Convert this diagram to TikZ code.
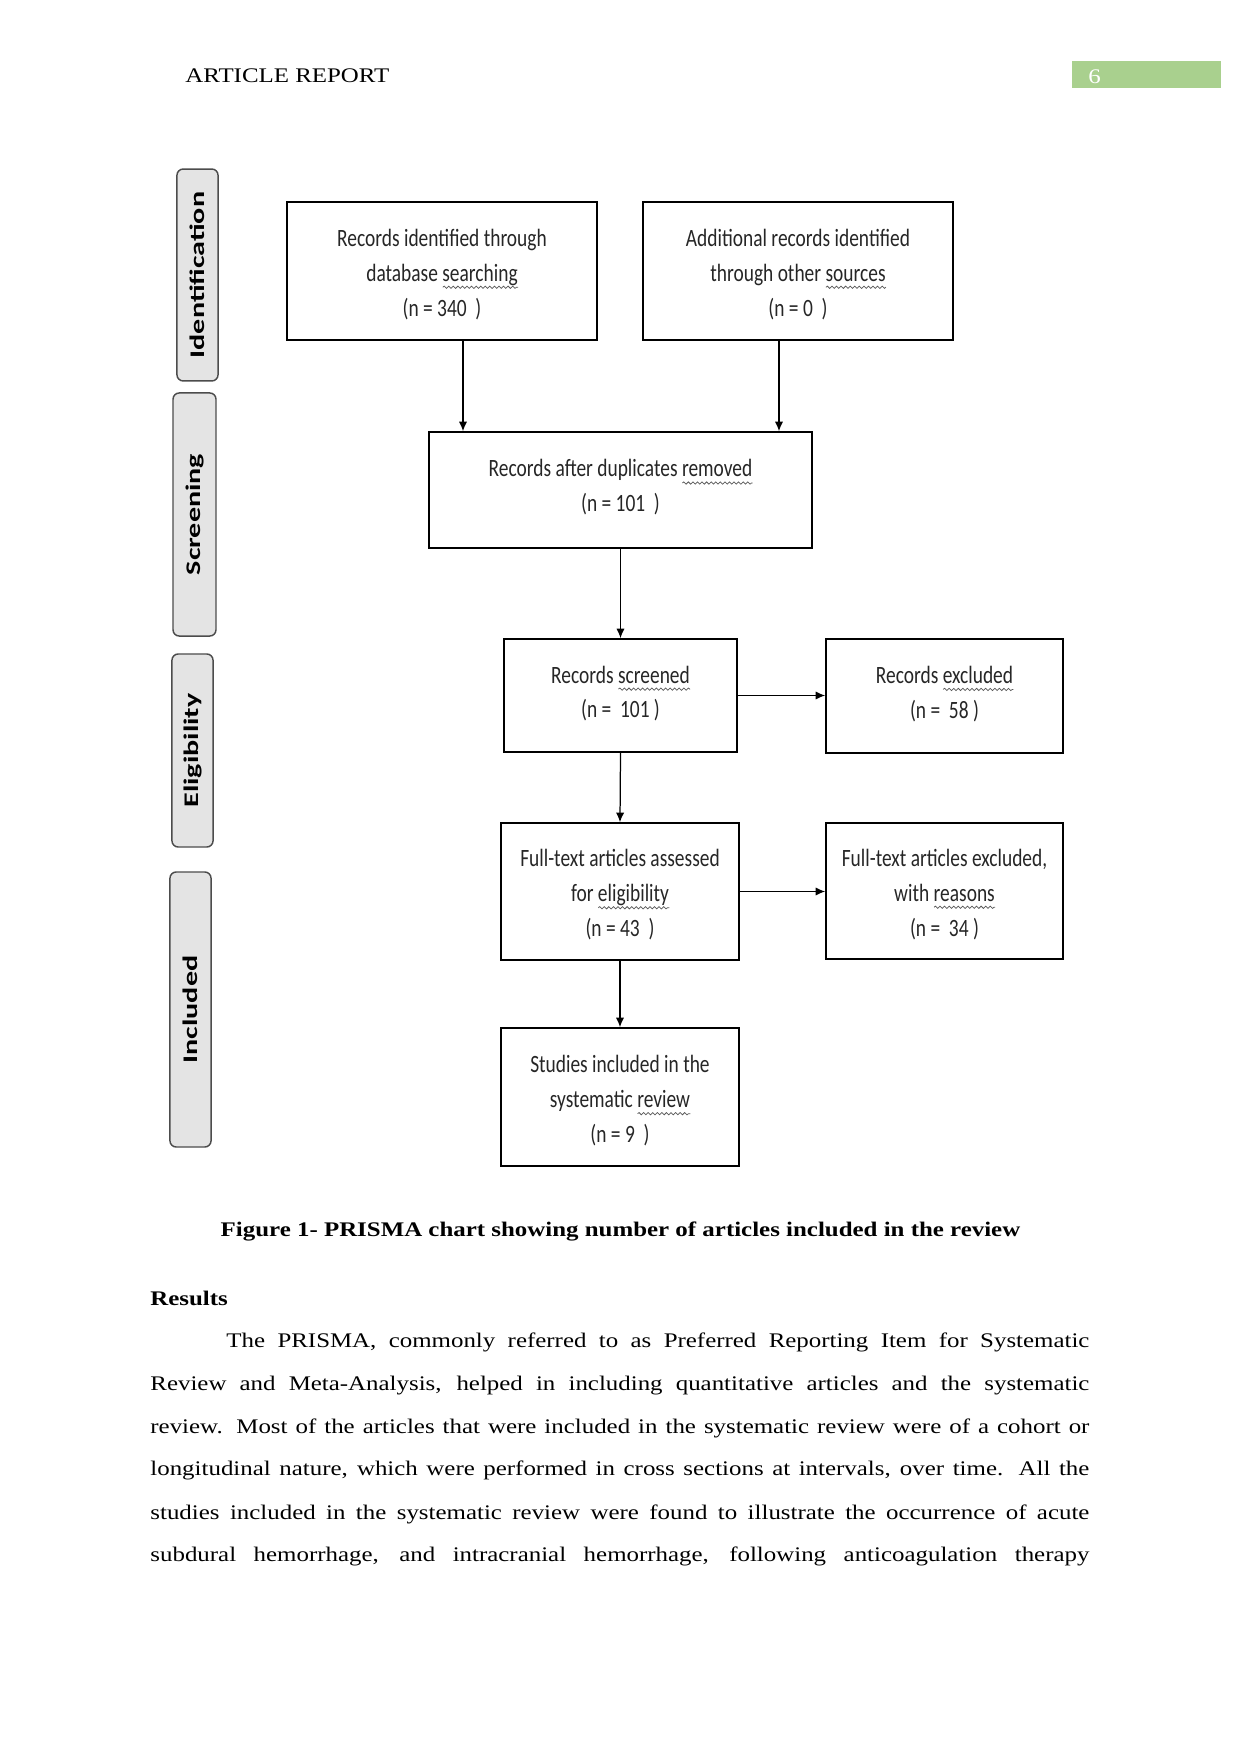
\documentclass[tikz,border=0pt]{standalone}
\usepackage{fontspec}
\setmainfont[FakeStretch=1.2]{Liberation Serif}
\newfontfamily\boxfont[FakeStretch=0.78]{Carlito}
\newfontfamily\tabfont[FakeStretch=1.45]{Carlito}
\usepackage{xcolor}
\usetikzlibrary{arrows.meta, calc, decorations.pathmorphing}
\definecolor{tabgray}{HTML}{E4E4E4}
\definecolor{pagegreen}{HTML}{A9D08E}
\newdimen\sqwd
\newcommand{\sq}[1]{\setbox0\hbox{#1}\sqwd=\wd0\rlap{\tikz[baseline=0pt, x=1pt, y=1pt]
  \draw[black!65, line width=0.35pt, decorate, decoration={snake, amplitude=0.55pt, segment length=2.2pt}]
  (0,-2.9) -- (\sqwd,-2.9);}#1}

\begin{document}
\begin{tikzpicture}[x=0.4818pt, y=-0.4818pt,
  prisma/.style={draw, line width=0.8pt, inner sep=0pt},
  prismatext/.style={align=center, inner sep=0pt, text=black!85,
    font=\boxfont\fontsize{12}{16.8}\selectfont},
  phase/.style={draw=black!70, fill=tabgray, line width=0.7pt, rounded corners=3pt,
    rotate=90, inner sep=0pt, font=\tabfont\bfseries\fontsize{10}{12}\selectfont},
  flow/.style={line width=0.6pt, -{Latex[length=4.6pt, width=4pt]}}]
\useasboundingbox (0,0) rectangle (1241,1754);
\node[anchor=base west, inner sep=0pt] (runhead) at (185,83) {ARTICLE REPORT};
\node[fill=pagegreen, minimum width=71.8pt, minimum height=13pt, inner sep=0pt] (pagebox) at (1146.5,74.5) {};
\node[anchor=base west, inner sep=0pt, text=white] (pagenum) at (1088,84) {6};
\node[phase, minimum width=102.1pt, minimum height=19.8pt] (identif) at (197.5,275) {Identification};
\node[phase, minimum width=117.1pt, minimum height=20.7pt] (screen) at (194.5,514.5) {Screening};
\node[phase, minimum width=93pt, minimum height=19.8pt] (elig) at (192.5,750.5) {Eligibility};
\node[phase, minimum width=132.5pt, minimum height=19.8pt] (incl) at (190.5,1009.5) {Included};
\node[prisma, minimum width=149.4pt, minimum height=66.5pt,
  label={[prismatext, yshift=-1.6pt]center:{Records identified through\\database \sq{searching}\\(n = 340\ \ )}}] (dbsearch) at (442,271) {};
\node[prisma, minimum width=149.4pt, minimum height=66.5pt,
  label={[prismatext, yshift=-1.6pt]center:{Additional records identified\\through other \sq{sources}\\(n = 0\ \ )}}] (othersrc) at (798,271) {};
\node[prisma, minimum width=184.5pt, minimum height=55.9pt,
  label={[prismatext, yshift=1.2pt]center:{Records after duplicates \sq{removed}\\(n = 101\ \ )}}] (dedup) at (620.5,490) {};
\node[prisma, minimum width=112.3pt, minimum height=54.4pt,
  label={[prismatext, yshift=0.9pt]center:{Records \sq{screened}\\(n =\ \ 101 )}}] (screened) at (620.5,695.5) {};
\node[prisma, minimum width=114.2pt, minimum height=54.9pt,
  label={[prismatext, yshift=1pt]center:{Records \sq{excluded}\\(n =\ \ 58 )}}] (excluded) at (944.5,696) {};
\node[prisma, minimum width=114.7pt, minimum height=66pt,
  label={[prismatext, yshift=-1.6pt]center:{Full-text articles assessed\\for \sq{eligibility}\\(n = 43\ \ )}}] (fulltext) at (620,891.5) {};
\node[prisma, minimum width=114.2pt, minimum height=65.5pt,
  label={[prismatext, yshift=-1.6pt]center:{Full-text articles excluded,\\with \sq{reasons}\\(n =\ \ 34 )}}] (ftexcl) at (944.5,891) {};
\node[prisma, minimum width=114.7pt, minimum height=66.5pt,
  label={[prismatext, yshift=-1.8pt]center:{Studies included in the\\systematic \sq{review}\\(n = 9\ \ )}}] (studies) at (620,1097) {};
\coordinate (dbout) at ($(dbsearch.south)+(21,0)$);
\coordinate (otherout) at ($(othersrc.south)+(-19,0)$);
\draw[flow] (dbout) -- (dbout |- dedup.north);
\draw[flow] (otherout) -- (otherout |- dedup.north);
\draw[flow] (dedup.south) -- (screened.north);
\draw[flow] (screened.east) -- (screened.east -| excluded.west);
\draw[flow] (screened.south) -- (fulltext.north);
\draw[flow] (fulltext.east) -- (fulltext.east -| ftexcl.west);
\draw[flow] (fulltext.south) -- (studies.north);
\node[anchor=base, inner sep=0pt, font=\bfseries] (caption) at (620.5,1236) {Figure 1- PRISMA chart showing number of articles included in the review};
\node[anchor=base west, inner sep=0pt, font=\bfseries] (results) at (150,1305) {Results};
\node[anchor=base west, inner sep=0pt] (line1) at (226,1347) {\makebox[415.8pt][s]{The PRISMA, commonly referred to as Preferred Reporting Item for Systematic}};
\node[anchor=base west, inner sep=0pt] (line2) at (150,1390) {\makebox[452.4pt][s]{Review and Meta-Analysis, helped in including quantitative articles and the systematic}};
\node[anchor=base west, inner sep=0pt] (line3) at (150,1433) {\makebox[452.4pt][s]{review. Most of the articles that were included in the systematic review were of a cohort or}};
\node[anchor=base west, inner sep=0pt] (line4) at (150,1475) {\makebox[452.4pt][s]{longitudinal nature, which were performed in cross sections at intervals, over time. All the}};
\node[anchor=base west, inner sep=0pt] (line5) at (150,1519) {\makebox[452.4pt][s]{studies included in the systematic review were found to illustrate the occurrence of acute}};
\node[anchor=base west, inner sep=0pt] (line6) at (150,1561) {\makebox[452.4pt][s]{subdural hemorrhage, and intracranial hemorrhage, following anticoagulation therapy}};
\end{tikzpicture}
\end{document}
